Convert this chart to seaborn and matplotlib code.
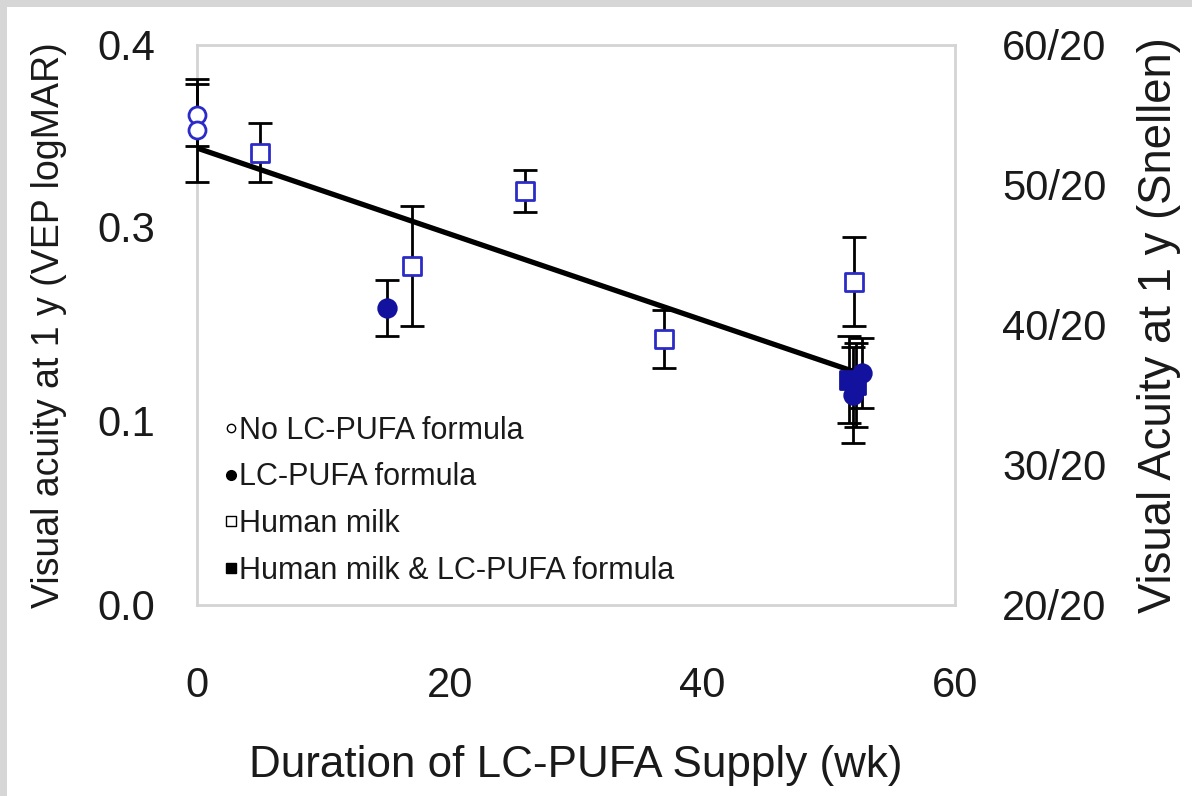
import numpy as np
import pandas as pd
import matplotlib
matplotlib.use("Agg")
import matplotlib.pyplot as plt
from matplotlib.lines import Line2D
from matplotlib.patches import Rectangle
import seaborn as sns

# ---------------- data ----------------
no_lc_weeks = [0, 0]
no_lc_acuity = [0.350, 0.339]
no_lc_se = [0.022, 0.037]

lc_weeks = [15, 51.9, 52.6]
lc_acuity = [0.212, 0.150, 0.166]
lc_se = [0.020, 0.034, 0.025]

hm_weeks = [5, 17, 26, 37, 52]
hm_acuity = [0.323, 0.242, 0.296, 0.190, 0.231]
hm_se = [0.021, 0.043, 0.015, 0.021, 0.032]

hmlc_weeks = [51.6, 52.2]
hmlc_acuity = [0.161, 0.157]
hmlc_se = [0.031, 0.030]

fit_intercept = 0.3264
fit_slope = -0.00307
fit_weeks = [0, 52]

left_tick_pos = [0.0, 0.132, 0.270, 0.4]
left_tick_labels = ["0.0", "0.1", "0.3", "0.4"]
snellen_ticks = [20, 30, 40, 50, 60]
snellen_labels = ["20/20", "30/20", "40/20", "50/20", "60/20"]
x_ticks = [0, 20, 40, 60]

group_names = ["No LC-PUFA formula", "LC-PUFA formula", "Human milk",
               "Human milk & LC-PUFA formula"]

df = pd.concat([
    pd.DataFrame({"weeks": no_lc_weeks, "acuity": no_lc_acuity, "se": no_lc_se, "group": group_names[0]}),
    pd.DataFrame({"weeks": lc_weeks, "acuity": lc_acuity, "se": lc_se, "group": group_names[1]}),
    pd.DataFrame({"weeks": hm_weeks, "acuity": hm_acuity, "se": hm_se, "group": group_names[2]}),
    pd.DataFrame({"weeks": hmlc_weeks, "acuity": hmlc_acuity, "se": hmlc_se, "group": group_names[3]}),
], ignore_index=True)

# ---------------- style ----------------
sns.set_theme(style="white")
plt.rcParams["font.family"] = ["Liberation Sans", "DejaVu Sans"]

W, H = 1192, 796
fig = plt.figure(figsize=(W / 100, H / 100), dpi=100)
fig.patch.set_facecolor("white")
fig.patches.append(Rectangle((0, 1 - 7 / H), 1, 7 / H, transform=fig.transFigure,
                             facecolor="#d6d6d6", edgecolor="none", zorder=0))
fig.patches.append(Rectangle((0, 0), 7 / W, 1, transform=fig.transFigure,
                             facecolor="#d6d6d6", edgecolor="none", zorder=0))

ax = fig.add_axes([197 / W, 1 - 605 / H, (955 - 197) / W, (605 - 45) / H])

open_blue = "#2b2bc8"
fill_blue = "#12129e"

styles = {
    group_names[0]: dict(marker="o", color="white", edgecolor=open_blue, s=150),
    group_names[1]: dict(marker="o", color=fill_blue, edgecolor=fill_blue, s=160),
    group_names[2]: dict(marker="s", color="white", edgecolor=open_blue, s=150),
    group_names[3]: dict(marker="s", color=fill_blue, edgecolor=fill_blue, s=170),
}

# error bars
eb = ax.errorbar(df["weeks"], df["acuity"], yerr=df["se"], fmt="none", ecolor="black",
                 elinewidth=2.0, capsize=8.5, capthick=2.0, zorder=2.6)
for art in list(eb.lines[1]) + list(eb.lines[2]):
    art.set_clip_on(False)
    art.set_zorder(2.6)

# regression line
fx = np.array(fit_weeks, dtype=float)
sns.lineplot(x=fx, y=fit_intercept + fit_slope * fx, ax=ax, color="black",
             linewidth=3.8, zorder=2.7)

for g in group_names:
    sub = df[df["group"] == g]
    st = styles[g]
    sns.scatterplot(data=sub, x="weeks", y="acuity", ax=ax, marker=st["marker"],
                    color=st["color"], edgecolor=st["edgecolor"], s=st["s"],
                    linewidth=2.0, zorder=3, legend=False, clip_on=False)

ax.set_xlim(0, 60)
ax.set_ylim(0, 0.4)
ax.set_xticks(x_ticks)
ax.set_xticklabels([str(t) for t in x_ticks])
ax.set_yticks(left_tick_pos)
ax.set_yticklabels(left_tick_labels)
ax.tick_params(axis="both", length=0, labelsize=30, colors="#1a1a1a")
ax.tick_params(axis="x", pad=44)
ax.tick_params(axis="y", pad=30)
ax.set_xlabel("Duration of LC-PUFA Supply (wk)", fontsize=31.7, labelpad=28, color="#1a1a1a")
ax.set_ylabel("Visual acuity at 1 y (VEP logMAR)", fontsize=27, labelpad=22, color="#1a1a1a")
for sp in ax.spines.values():
    sp.set_color("#d4d4d4")
    sp.set_linewidth(2)
    sp.set_zorder(2.5)
ax.set_facecolor("white")

ax2 = ax.twinx()
ax2.set_ylim(20, 60)
ax2.set_yticks(snellen_ticks)
ax2.set_yticklabels(snellen_labels)
ax2.tick_params(axis="y", length=0, labelsize=30, pad=34, colors="#1a1a1a")
ax2.set_ylabel("Visual Acuity at 1 y (Snellen)", fontsize=32.8, labelpad=22, color="#1a1a1a")
for sp in ax2.spines.values():
    sp.set_visible(False)
ax2.grid(False)
ax2.set_zorder(ax.get_zorder() - 1)
ax.patch.set_visible(True)
ax2.patch.set_visible(False)

handles = [
    Line2D([], [], marker="o", ls="none", mfc="white", mec="black", ms=6, mew=1.0),
    Line2D([], [], marker="o", ls="none", mfc="black", mec="black", ms=7, mew=1.0),
    Line2D([], [], marker="s", ls="none", mfc="white", mec="black", ms=6.5, mew=1.0),
    Line2D([], [], marker="s", ls="none", mfc="black", mec="black", ms=6.5, mew=1.0),
]
leg = ax.legend(handles, group_names, loc="lower left", bbox_to_anchor=(0.037, 0.034),
                frameon=False, handlelength=0.4, handletextpad=0.05, labelspacing=0.55,
                borderpad=0, borderaxespad=0,
                prop={"family": ["Liberation Sans", "DejaVu Sans"], "size": 22})
for t in leg.get_texts():
    t.set_color("#1a1a1a")

fig.savefig("out.png", dpi=100, facecolor=fig.get_facecolor())
